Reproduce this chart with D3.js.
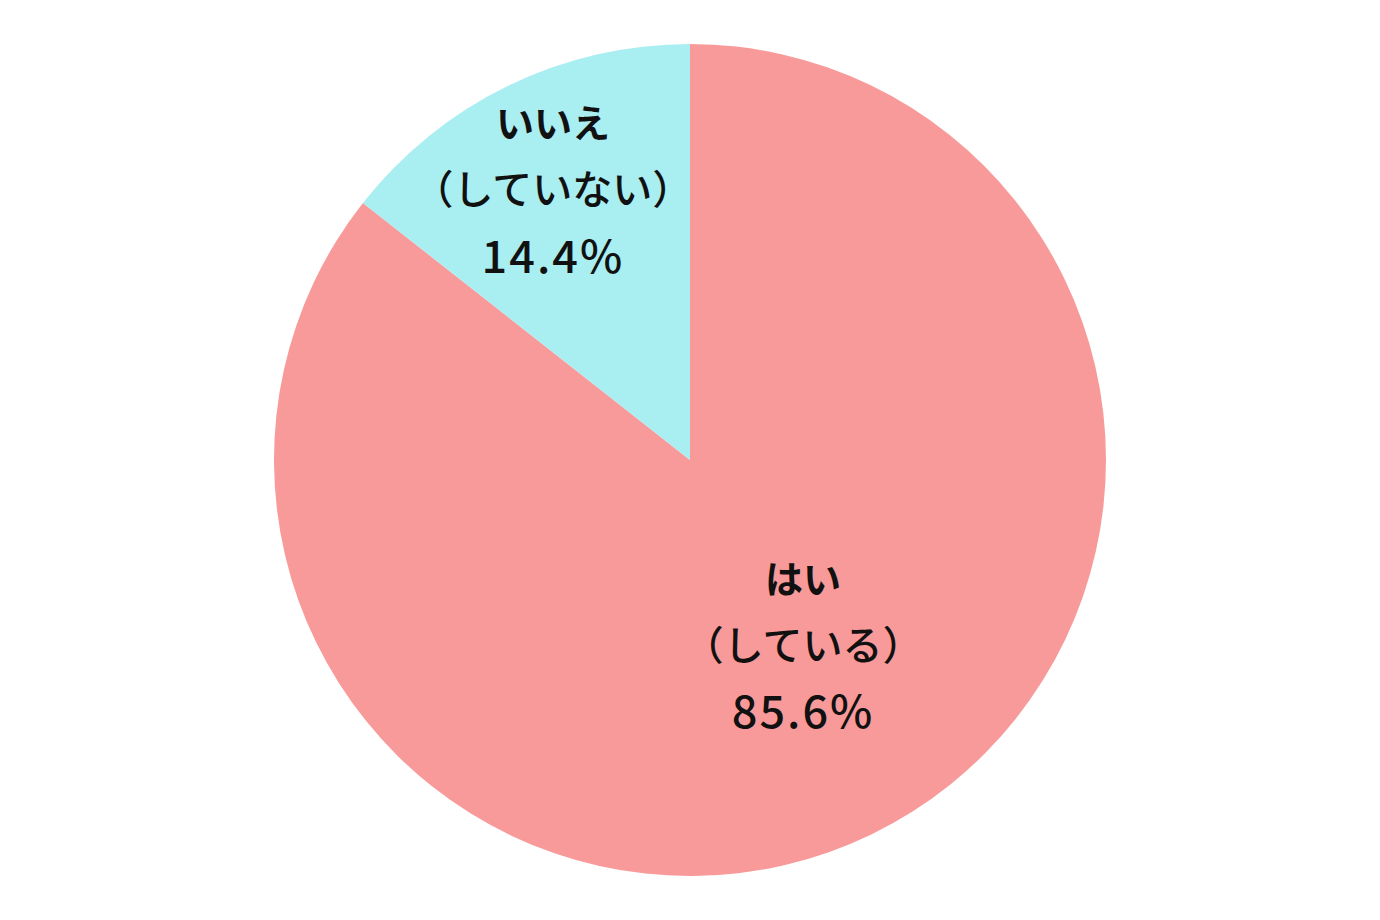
<!DOCTYPE html>
<html>
<head>
<meta charset="utf-8">
<script src="https://cdn.jsdelivr.net/npm/d3@7"></script>
<style>
  body { margin: 0; background: #fff; }
  .label { font-family: "Noto Sans CJK JP", "Noto Sans", sans-serif; fill: #111; }
</style>
</head>
<body>
<div class="chart"></div>
<script>
// data
var categories = ["はい", "いいえ"];
var subLabels = ["（している）", "（していない）"];
var values = [85.6, 14.4];
var colors = ["#F99A9A", "#A9EEF1"];

var svgWidth = 1380;
var svgHeight = 920;
var cx = 690, cy = 460, radius = 416;

// label placement (angle in degrees clockwise from top, distance from center)
var labelPos = [{ a: 148.6, r: 217 }, { a: -26.9, r: 303 }];

var svg = d3.select(".chart")
  .append("svg")
  .attr("width", svgWidth)
  .attr("height", svgHeight);

var g = svg.append("g")
  .attr("transform", `translate(${cx}, ${cy})`);

var pie = d3.pie().sort(null).value(d => d);
var arc = d3.arc().innerRadius(0).outerRadius(radius);

var slices = pie(values);

g.selectAll("path")
  .data(slices)
  .enter()
  .append("path")
  .attr("d", arc)
  .attr("fill", (d, i) => colors[i]);

slices.forEach(function (d, i) {
  var ang = labelPos[i].a * Math.PI / 180;
  var x = labelPos[i].r * Math.sin(ang);
  var y = -labelPos[i].r * Math.cos(ang);

  var t = g.append("g").attr("transform", `translate(${x}, ${y})`);

  t.append("text")
    .attr("class", "label")
    .attr("text-anchor", "middle")
    .attr("y", -66)
    .attr("dy", "0.36em")
    .style("font-size", "38px")
    .style("font-weight", 600)
    .text(categories[i]);

  t.append("text")
    .attr("class", "label")
    .attr("text-anchor", "middle")
    .attr("y", 0)
    .attr("dy", "0.36em")
    .style("font-size", "40px")
    .style("font-weight", 500)
    .text(subLabels[i]);

  t.append("text")
    .attr("class", "label")
    .attr("text-anchor", "middle")
    .attr("y", 67)
    .attr("dy", "0.36em")
    .style("font-size", "45px")
    .style("font-weight", 500)
    .style("letter-spacing", "2px")
    .text(d.data.toFixed(1) + "%");
});
</script>
</body>
</html>
